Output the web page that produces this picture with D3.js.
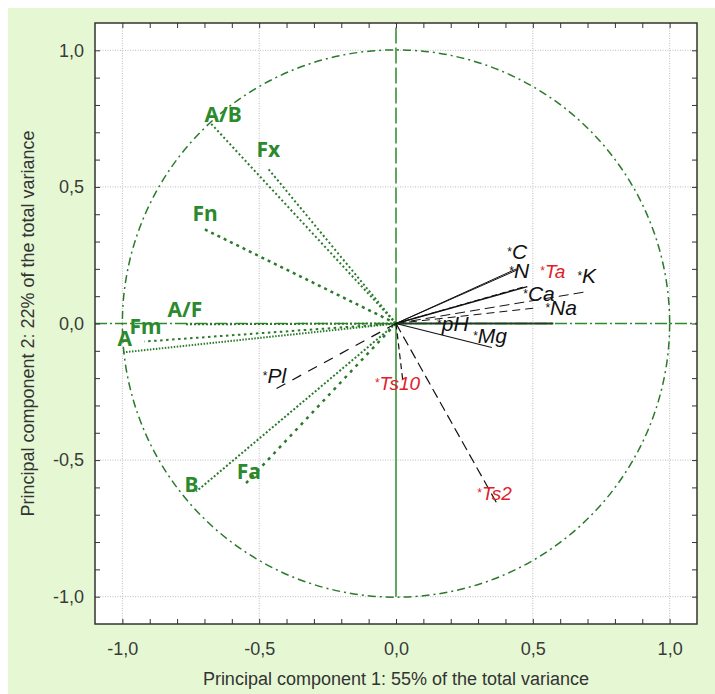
<!DOCTYPE html>
<html>
<head>
<meta charset="utf-8">
<script src="https://cdn.jsdelivr.net/npm/d3@7"></script>
<style>
  body { margin: 0; background: #fff; }
</style>
</head>
<body>
<div id="chart"></div>
<script>
var width = 715
var height = 694

// green variables (loadings = end of vector, label = where the name sits)
var greenNames = ["A/B", "Fx", "Fn", "A/F", "Fm", "A", "B", "Fa"]
var greenX = [-0.68, -0.47, -0.71, -0.77, -0.92, -1.0, -0.73, -0.553]
var greenY = [0.736, 0.57, 0.35, -0.003, -0.066, -0.106, -0.615, -0.59]
var greenLabelX = [-0.70, -0.51, -0.744, -0.835, -0.974, -1.018, -0.773, -0.582]
var greenLabelY = [0.736, 0.608, 0.374, 0.022, -0.04, -0.084, -0.615, -0.571]

// black / red variables
var chemNames = ["C", "N", "Ta", "K", "Ca", "Na", "pH", "Mg", "Pl", "Ts10", "Ts2"]
var chemX = [0.44, 0.447, 0.47, 0.70, 0.48, 0.52, 0.575, 0.35, -0.44, 0.025, 0.375]
var chemY = [0.20, 0.198, 0.135, 0.117, 0.135, 0.058, 0.0, -0.088, -0.24, -0.21, -0.67]
var chemLabelX = [0.407, 0.414, 0.527, 0.663, 0.465, 0.546, 0.150, 0.282, -0.487, -0.077, 0.297]
var chemLabelY = [0.236, 0.165, 0.168, 0.150, 0.084, 0.030, -0.029, -0.070, -0.216, -0.242, -0.645]
var redNames = ["Ta", "Ts10", "Ts2"]

var axisTicks = d3.range(-10, 11).map(function(i) { return i / 10 })
var labelTicks = [-1.0, -0.5, 0.0, 0.5, 1.0]
var gridTicks = [-1.0, -0.5, 0.5, 1.0]

var xTitle = "Principal component 1: 55% of the total variance"
var yTitle = "Principal component 2: 22% of the total variance"

// line styles per variable
var greenDash = {"A/B": "2,2.5", "Fx": "2,2.5", "Fn": "3,4", "A/F": "2,2", "Fm": "2.5,3.5", "A": "1.5,1.5", "B": "2,2", "Fa": "3,5"}
var chemDash = {"C": null, "N": null, "Ta": "6,3", "K": "10,5", "Ca": null, "Na": "8,5", "pH": null, "Mg": null, "Pl": "10,8", "Ts10": "6,4", "Ts2": "10,5"}
var chemWidth = {"Ca": 1.5, "pH": 2, "Mg": 1.2, "Pl": 1.2, "Ts10": 1.2, "Ts2": 1.2}

var green = "#2b8a2b"
var lineGreen = "#2a7a2a"

var svg = d3.select("#chart")
    .append("svg")
    .attr("width", width)
    .attr("height", height)

// light green panel
svg.append("rect")
    .attr("x", 8).attr("y", 8)
    .attr("width", width - 8).attr("height", height - 8)
    .attr("fill", "#e5f8d3")

var x = d3.scaleLinear().domain([-1.1, 1.1]).range([95, 697])
var y = d3.scaleLinear().domain([-1.1, 1.1]).range([624, 23])

svg.append("rect")
    .attr("x", x(-1.1)).attr("y", y(1.1))
    .attr("width", x(1.1) - x(-1.1)).attr("height", y(-1.1) - y(1.1))
    .attr("fill", "white")

svg.append("clipPath").attr("id", "clip")
    .append("rect")
    .attr("x", x(-1.1)).attr("y", y(1.1))
    .attr("width", x(1.1) - x(-1.1)).attr("height", y(-1.1) - y(1.1))

var plot = svg.append("g").attr("clip-path", "url(#clip)")

// grid
plot.selectAll(".gx").data(gridTicks).enter().append("line")
    .attr("x1", function(d) { return x(d) }).attr("x2", function(d) { return x(d) })
    .attr("y1", y(1.1)).attr("y2", y(-1.1))
    .attr("stroke", "#bdbdbd").attr("stroke-dasharray", "1,1.5")
plot.selectAll(".gy").data(gridTicks).enter().append("line")
    .attr("y1", function(d) { return y(d) }).attr("y2", function(d) { return y(d) })
    .attr("x1", x(-1.1)).attr("x2", x(1.1))
    .attr("stroke", "#bdbdbd").attr("stroke-dasharray", "1,1.5")

// zero lines
plot.append("line")
    .attr("x1", x(0)).attr("x2", x(0)).attr("y1", y(0)).attr("y2", y(1.1))
    .attr("stroke", green).attr("stroke-width", 1.5).attr("stroke-dasharray", "16,4")
plot.append("line")
    .attr("x1", x(0)).attr("x2", x(0)).attr("y1", y(0)).attr("y2", y(-1.0))
    .attr("stroke", green).attr("stroke-width", 1.5)
plot.append("line")
    .attr("x1", x(-1.1)).attr("x2", x(1.1)).attr("y1", y(0)).attr("y2", y(0))
    .attr("stroke", green).attr("stroke-width", 1.5).attr("stroke-dasharray", "12,3,2,3")

// unit circle
plot.append("circle")
    .attr("cx", x(0)).attr("cy", y(0))
    .attr("r", x(1) - x(0))
    .attr("fill", "none")
    .attr("stroke", lineGreen).attr("stroke-width", 1.5)
    .attr("stroke-dasharray", "8,4,2,4")

// green vectors
var greenData = greenNames.map(function(n, i) {
    return {name: n, x: greenX[i], y: greenY[i], lx: greenLabelX[i], ly: greenLabelY[i]}
})
plot.selectAll(".gv").data(greenData).enter().append("line")
    .attr("x1", x(0)).attr("y1", y(0))
    .attr("x2", function(d) { return x(d.x) }).attr("y2", function(d) { return y(d.y) })
    .attr("stroke", lineGreen)
    .attr("stroke-width", function(d) { return d.name == "Fa" || d.name == "Fn" ? 2.5 : 2 })
    .attr("stroke-dasharray", function(d) { return greenDash[d.name] })

// black vectors
var chemData = chemNames.map(function(n, i) {
    return {name: n, x: chemX[i], y: chemY[i], lx: chemLabelX[i], ly: chemLabelY[i]}
})
plot.selectAll(".cv").data(chemData).enter().append("line")
    .attr("x1", x(0)).attr("y1", y(0))
    .attr("x2", function(d) { return x(d.x) }).attr("y2", function(d) { return y(d.y) })
    .attr("stroke", function(d) { return d.name == "pH" ? "#1d3d1d" : "#111" })
    .attr("stroke-width", function(d) { return chemWidth[d.name] || 1 })
    .attr("stroke-dasharray", function(d) { return chemDash[d.name] })

// green labels
svg.selectAll(".gl").data(greenData).enter().append("text")
    .attr("x", function(d) { return x(d.lx) }).attr("y", function(d) { return y(d.ly) })
    .attr("font-family", "'Noto Sans', sans-serif")
    .attr("font-weight", "bold")
    .attr("font-size", 21)
    .attr("fill", green)
    .text(function(d) { return d.name })

// black / red labels with the little star
var cl = svg.selectAll(".cl").data(chemData).enter().append("text")
    .attr("x", function(d) { return x(d.lx) }).attr("y", function(d) { return y(d.ly) })
    .attr("font-family", "'Liberation Sans', Arial, sans-serif")
    .attr("font-style", "italic")
    .attr("fill", function(d) { return redNames.indexOf(d.name) >= 0 ? "#e0202a" : "#111" })
cl.append("tspan")
    .attr("font-size", 12).attr("font-style", "normal")
    .attr("dy", -3)
    .text("*")
cl.append("tspan")
    .attr("font-size", function(d) { return redNames.indexOf(d.name) >= 0 ? 19 : 21 })
    .attr("dy", 3)
    .text(function(d) { return d.name })

// axes, ticks pointing inward
var fmt = function(d) {
    return labelTicks.some(function(t) { return Math.abs(t - d) < 1e-9 }) ? d3.format(".1f")(d).replace(".", ",").replace("\u2212", "-") : ""
}

function styleAxis(g) {
    g.select(".domain").remove()
    g.selectAll(".tick line").attr("stroke", "#333")
    g.selectAll(".tick text")
        .attr("font-family", "'Liberation Sans', Arial, sans-serif")
        .attr("font-size", 18)
        .attr("fill", "#3a3a3a")
}

svg.append("g").attr("transform", "translate(0," + y(-1.1) + ")")
    .call(d3.axisBottom(x).tickValues(axisTicks).tickSize(-5).tickPadding(18).tickFormat(fmt))
    .call(styleAxis)
svg.append("g").attr("transform", "translate(0," + y(1.1) + ")")
    .call(d3.axisTop(x).tickValues(axisTicks).tickSize(-5).tickFormat(""))
    .call(styleAxis)
svg.append("g").attr("transform", "translate(" + x(-1.1) + ",0)")
    .call(d3.axisLeft(y).tickValues(axisTicks).tickSize(-5).tickPadding(11).tickFormat(fmt))
    .call(styleAxis)
svg.append("g").attr("transform", "translate(" + x(1.1) + ",0)")
    .call(d3.axisRight(y).tickValues(axisTicks).tickSize(-5).tickFormat(""))
    .call(styleAxis)

// frame
svg.append("rect")
    .attr("x", x(-1.1)).attr("y", y(1.1))
    .attr("width", x(1.1) - x(-1.1)).attr("height", y(-1.1) - y(1.1))
    .attr("fill", "none").attr("stroke", "#333").attr("stroke-width", 1.5)

// axis titles
svg.append("text")
    .attr("x", x(0)).attr("y", 685)
    .attr("text-anchor", "middle")
    .attr("font-family", "'Liberation Sans', Arial, sans-serif")
    .attr("font-size", 18).attr("fill", "#333")
    .text(xTitle)
svg.append("text")
    .attr("transform", "translate(34," + y(0) + ") rotate(-90)")
    .attr("text-anchor", "middle")
    .attr("font-family", "'Liberation Sans', Arial, sans-serif")
    .attr("font-size", 18).attr("fill", "#333")
    .text(yTitle)
</script>
</body>
</html>
